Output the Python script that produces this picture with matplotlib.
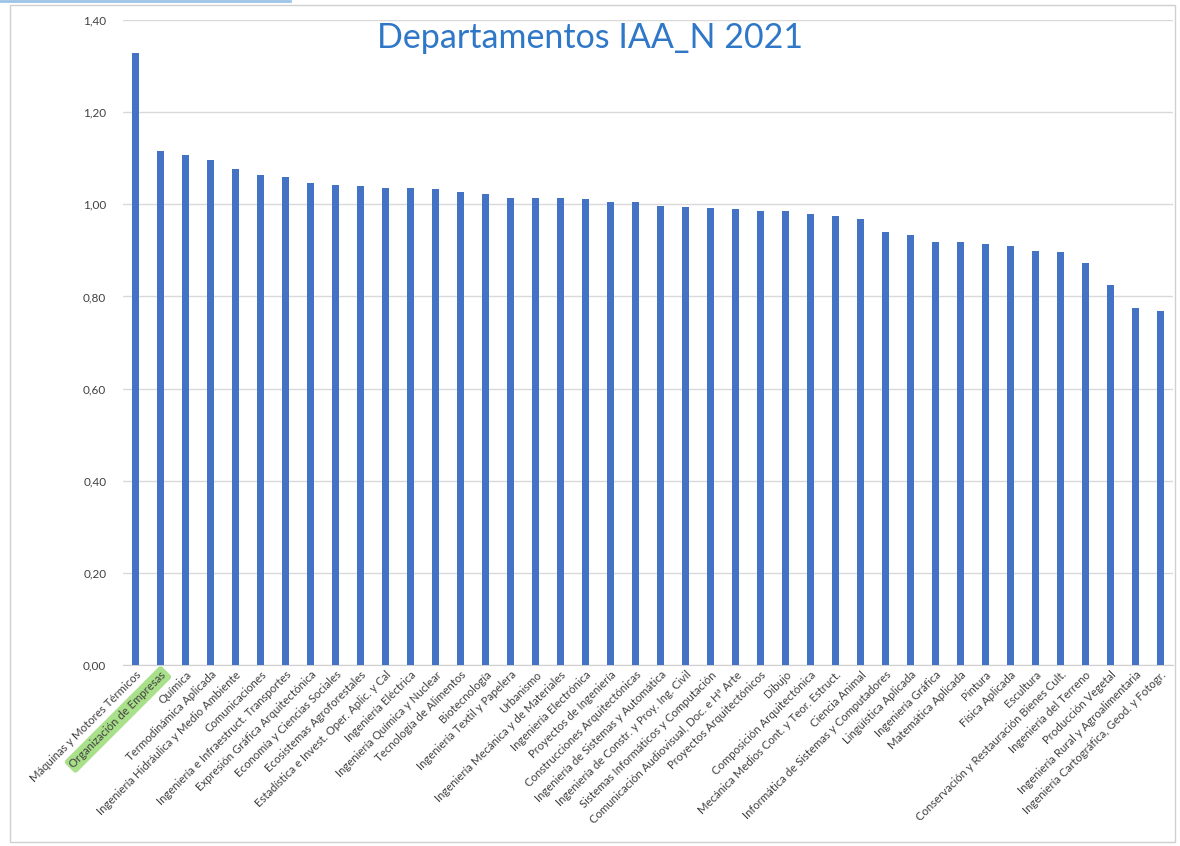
import matplotlib
matplotlib.use("Agg")
import matplotlib.pyplot as plt
from matplotlib.patches import Rectangle
from matplotlib.ticker import FuncFormatter

departamentos = [
    "Máquinas y Motores Térmicos",
    "Organización de Empresas",
    "Química",
    "Termodinámica Aplicada",
    "Ingeniería Hidráulica y Medio Ambiente",
    "Comunicaciones",
    "Ingeniería e Infraestruct. Transportes",
    "Expresión Gráfica Arquitectónica",
    "Economía y Ciencias Sociales",
    "Ecosistemas Agroforestales",
    "Estadística e Invest. Oper. Aplic. y Cal",
    "Ingeniería Eléctrica",
    "Ingeniería Química y Nuclear",
    "Tecnología de Alimentos",
    "Biotecnología",
    "Ingeniería Textil y Papelera",
    "Urbanismo",
    "Ingeniería Mecánica y de Materiales",
    "Ingeniería Electrónica",
    "Proyectos de Ingeniería",
    "Construcciones Arquitectónicas",
    "Ingeniería de Sistemas y Automática",
    "Ingeniería de Constr. y Proy. Ing. Civil",
    "Sistemas Informáticos y Computación",
    "Comunicación Audiovisual, Doc. e Hª Arte",
    "Proyectos Arquitectónicos",
    "Dibujo",
    "Composición Arquitectónica",
    "Mecánica Medios Cont. y Teor. Estruct.",
    "Ciencia Animal",
    "Informática de Sistemas y Computadores",
    "Lingüística Aplicada",
    "Ingeniería Gráfica",
    "Matemática Aplicada",
    "Pintura",
    "Física Aplicada",
    "Escultura",
    "Conservación y Restauración Bienes Cult.",
    "Ingeniería del Terreno",
    "Producción Vegetal",
    "Ingeniería Rural y Agroalimentaria",
    "Ingeniería Cartográfica, Geod. y Fotogr.",
]

iaa_n = [
    1.328, 1.115, 1.106, 1.097, 1.077, 1.064, 1.059, 1.046, 1.042, 1.040,
    1.036, 1.036, 1.033, 1.026, 1.023, 1.014, 1.014, 1.014, 1.011, 1.004,
    1.004, 0.997, 0.994, 0.993, 0.990, 0.985, 0.985, 0.979, 0.975, 0.969,
    0.940, 0.933, 0.918, 0.918, 0.914, 0.910, 0.899, 0.896, 0.872, 0.825,
    0.775, 0.769,
]

y_ticks = [0.0, 0.2, 0.4, 0.6, 0.8, 1.0, 1.2, 1.4]
highlight = "Organización de Empresas"
titulo = "Departamentos IAA_N 2021"

plt.rcParams['font.family'] = ['Lato', 'DejaVu Sans']

W, H = 1180, 846
fig = plt.figure(figsize=(W / 100, H / 100), dpi=100)
fig.patch.set_facecolor("white")

# outer chart frame
fig.patches.append(Rectangle((10 / W, 1 - 842 / H), 1165 / W, 837 / H,
                             transform=fig.transFigure, fill=False,
                             edgecolor="#d0d0d0", linewidth=1.0))
# screenshot artifact line at top
fig.add_artist(plt.Line2D([0, 290 / W], [1 - 1 / H, 1 - 1 / H],
                          transform=fig.transFigure, color="#9dc3e6", linewidth=2))

ax = fig.add_axes([123 / W, 1 - 665 / H, 1050 / W, 645 / H])
x = list(range(len(departamentos)))
ax.bar(x, iaa_n, width=0.3, color="#4472C4", zorder=3)

ax.set_xlim(-0.5, len(departamentos) - 0.5)
ax.set_ylim(0, 1.4)
ax.set_yticks(y_ticks)
ax.yaxis.set_major_formatter(FuncFormatter(lambda v, p: f"{v:.2f}".replace(".", ",")))
ax.grid(axis="y", color="#d9d9d9", linewidth=1.0, zorder=0)
for s in ["top", "right", "left"]:
    ax.spines[s].set_visible(False)
ax.spines["bottom"].set_color("#d0d0d0")
ax.tick_params(axis="y", length=0, labelsize=8.5, labelcolor="#404040", pad=12)
ax.tick_params(axis="x", length=0, pad=3)

ax.set_xticks(x)
ax.set_xticklabels(departamentos, rotation=45, ha="right", rotation_mode="anchor",
                   fontsize=8.2, color="#404040")
for lbl in ax.get_xticklabels():
    if lbl.get_text() == highlight:
        lbl.set_bbox(dict(boxstyle="round,pad=0.25", facecolor="#a9e08a",
                          edgecolor="none"))

fig.text(590 / W, 1 - 38 / H, titulo, ha="center", va="center",
         fontsize=24.5, color="#2F78C8")

fig.savefig("out.png", dpi=100, facecolor="white")
